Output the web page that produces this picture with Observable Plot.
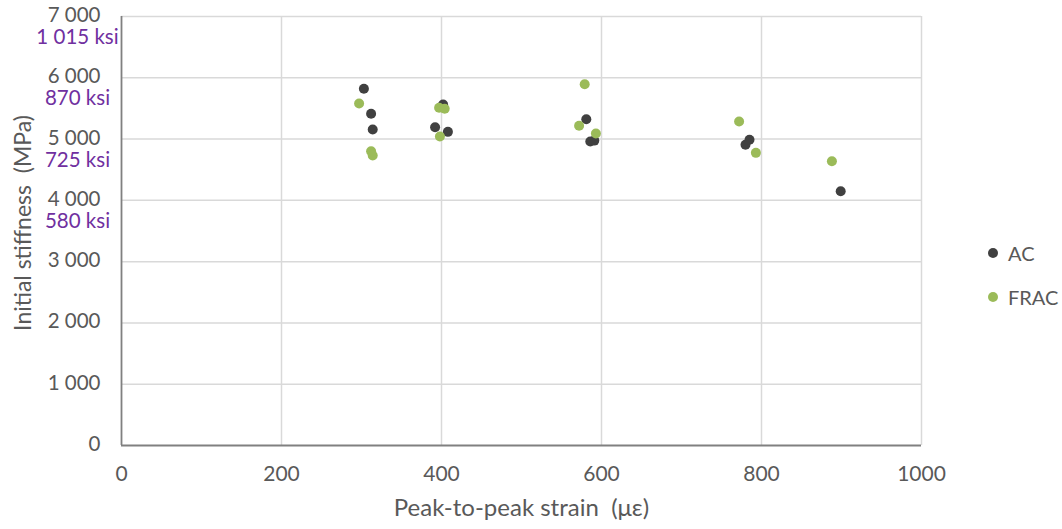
<!DOCTYPE html>
<html>
<head>
<meta charset="utf-8">
<script src="https://cdn.jsdelivr.net/npm/d3@7"></script>
<script src="https://cdn.jsdelivr.net/npm/@observablehq/plot@0.6"></script>
<style>
  html, body { margin: 0; padding: 0; background: #fff; }
  #wrap { position: relative; width: 1062px; height: 529px; font-family: Lato, "Open Sans", sans-serif; }
  .legend { position: absolute; left: 988px; font-size: 20px; color: #595959; display: flex; align-items: center; }
  .legend span.sw { display: inline-block; width: 10px; height: 10px; border-radius: 50%; margin-right: 10px; }
</style>
</head>
<body>
<div id="wrap"></div>
<script>
// Data
const acStrain   = [303, 312, 314, 402, 392, 408, 581, 586, 591, 780, 785, 899];
const acStiff    = [5820, 5412, 5156, 5564, 5194, 5118, 5324, 4960, 4975, 4906, 4990, 4149];
const fracStrain = [297, 312, 314, 397, 404, 398, 579, 572, 593, 772, 793, 888];
const fracStiff  = [5580, 4802, 4732, 5510, 5494, 5042, 5895, 5216, 5090, 5286, 4775, 4638];
const seriesNames = ["AC", "FRAC"];
const seriesColors = ["#404040", "#9BBB59"];
const xTicks = [0, 200, 400, 600, 800, 1000];
const yTicks = [0, 1000, 2000, 3000, 4000, 5000, 6000, 7000];
const ksiTicks = [7000, 6000, 5000, 4000];
const ksiLabels = ["1 015 ksi", "870 ksi", "725 ksi", "580 ksi"];
const xTitle = "Peak-to-peak strain  (με)";
const yTitle = "Initial stiffness  (MPa)";

const ac = acStrain.map((x, i) => ({x, y: acStiff[i]}));
const frac = fracStrain.map((x, i) => ({x, y: fracStiff[i]}));
const fmt = d => d3.format(",")(d).replace(/,/g, " ");
const textColor = "#595959";

const chart = Plot.plot({
  width: 1062,
  height: 529,
  marginLeft: 121,
  marginRight: 141,
  marginTop: 16,
  marginBottom: 84,
  style: {fontFamily: "Lato, 'Open Sans', sans-serif", fontSize: "20px", color: textColor, background: "#fff"},
  x: {domain: [0, 1000]},
  y: {domain: [0, 7000]},
  marks: [
    Plot.gridX(xTicks.slice(1), {stroke: "#d9d9d9", strokeOpacity: 1, strokeWidth: 1.5}),
    Plot.gridY(yTicks.slice(1), {stroke: "#d9d9d9", strokeOpacity: 1, strokeWidth: 1.5}),
    Plot.ruleX([0], {stroke: "#808080", strokeWidth: 1.8}),
    Plot.ruleY([0], {stroke: "#808080", strokeWidth: 1.8}),
    Plot.axisX(xTicks, {tickSize: 0, tickPadding: 21, tickFormat: d => String(d), label: null, fill: textColor, fontSize: 21}),
    Plot.axisY(yTicks, {tickSize: 0, tickPadding: 21, dy: -1, tickFormat: fmt, label: null, fill: textColor, fontSize: 20.5}),
    Plot.text(ksiTicks, {y: d => d, text: (d, i) => ksiLabels[i], frameAnchor: "left", textAnchor: "middle", dx: -44, dy: 21, fill: "#7030A0", fontSize: 20.5}),
    Plot.text([xTitle], {frameAnchor: "bottom", textAnchor: "middle", dy: 70, fill: textColor, fontSize: 24}),
    Plot.text([yTitle], {frameAnchor: "left", textAnchor: "middle", dx: -98, dy: -8, rotate: -90, fill: textColor, fontSize: 23}),
    Plot.dot(ac, {x: "x", y: "y", r: 5, fill: seriesColors[0], stroke: "none"}),
    Plot.dot(frac, {x: "x", y: "y", r: 5, fill: seriesColors[1], stroke: "none"})
  ]
});
const wrap = document.getElementById("wrap");
wrap.appendChild(chart);
const legendTops = [253, 297];
seriesNames.forEach((name, i) => {
  const el = document.createElement("div");
  el.className = "legend";
  el.style.top = (legendTops[i] - 12) + "px";
  el.style.height = "24px";
  el.innerHTML = `<span class="sw" style="background:${seriesColors[i]}"></span><span>${name}</span>`;
  wrap.appendChild(el);
});
</script>
</body>
</html>
